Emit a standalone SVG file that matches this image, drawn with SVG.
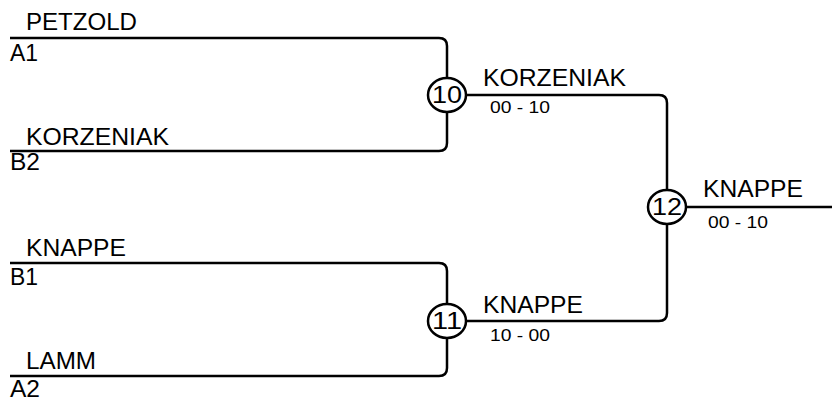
<svg xmlns="http://www.w3.org/2000/svg" width="832" height="401" viewBox="0 0 832 401">
<style>
.ln{fill:none;stroke:#000;stroke-width:2.5}
.nm{font-family:"Liberation Sans",Arial,sans-serif;font-size:23px;fill:#000}
.sc{font-family:"Liberation Sans",Arial,sans-serif;font-size:17px;fill:#000}
.cn{font-family:"Liberation Sans",Arial,sans-serif;font-size:23px;fill:#000;text-anchor:middle}
.cc{fill:#fff;stroke:#000;stroke-width:2.5}
</style>
<rect width="832" height="401" fill="#fff"/>
<g id="connectors">
<path class="ln" d="M10 38 H439 Q447 38 447 46 V78"/>
<path class="ln" d="M10 151 H439 Q447 151 447 143 V112"/>
<path class="ln" d="M10 263 H439 Q447 263 447 271 V304"/>
<path class="ln" d="M10 376 H439 Q447 376 447 368 V338"/>
<path class="ln" d="M466 95 H659 Q667 95 667 103 V190"/>
<path class="ln" d="M466 321 H659 Q667 321 667 313 V224"/>
<path class="ln" d="M686 207 H832"/>
</g>
<g id="entry-a1">
<text class="nm" x="26" y="30" textLength="111" lengthAdjust="spacingAndGlyphs">PETZOLD</text>
<text class="nm" x="10" y="61" textLength="28" lengthAdjust="spacingAndGlyphs">A1</text>
</g>
<g id="entry-b2">
<text class="nm" x="26" y="145" textLength="143" lengthAdjust="spacingAndGlyphs">KORZENIAK</text>
<text class="nm" x="10" y="170" textLength="30" lengthAdjust="spacingAndGlyphs">B2</text>
</g>
<g id="entry-b1">
<text class="nm" x="26" y="256" textLength="100" lengthAdjust="spacingAndGlyphs">KNAPPE</text>
<text class="nm" x="10" y="285" textLength="28" lengthAdjust="spacingAndGlyphs">B1</text>
</g>
<g id="entry-a2">
<text class="nm" x="26" y="369" textLength="70" lengthAdjust="spacingAndGlyphs">LAMM</text>
<text class="nm" x="10" y="397" textLength="30" lengthAdjust="spacingAndGlyphs">A2</text>
</g>
<g id="match-10">
<ellipse class="cc" cx="447" cy="95" rx="19" ry="17"/>
<text class="cn" x="447" y="103" textLength="30" lengthAdjust="spacingAndGlyphs">10</text>
<text class="nm" x="483" y="86" textLength="143" lengthAdjust="spacingAndGlyphs">KORZENIAK</text>
<text class="sc" x="490" y="113" textLength="60" lengthAdjust="spacingAndGlyphs">00 - 10</text>
</g>
<g id="match-11">
<ellipse class="cc" cx="447" cy="321" rx="19" ry="17"/>
<text class="cn" x="447" y="329" textLength="30" lengthAdjust="spacingAndGlyphs">11</text>
<text class="nm" x="483" y="313" textLength="100" lengthAdjust="spacingAndGlyphs">KNAPPE</text>
<text class="sc" x="490" y="341" textLength="60" lengthAdjust="spacingAndGlyphs">10 - 00</text>
</g>
<g id="match-12">
<ellipse class="cc" cx="667" cy="207" rx="19" ry="17"/>
<text class="cn" x="667" y="215" textLength="30" lengthAdjust="spacingAndGlyphs">12</text>
<text class="nm" x="703" y="197" textLength="100" lengthAdjust="spacingAndGlyphs">KNAPPE</text>
<text class="sc" x="708" y="228" textLength="60" lengthAdjust="spacingAndGlyphs">00 - 10</text>
</g>
</svg>
